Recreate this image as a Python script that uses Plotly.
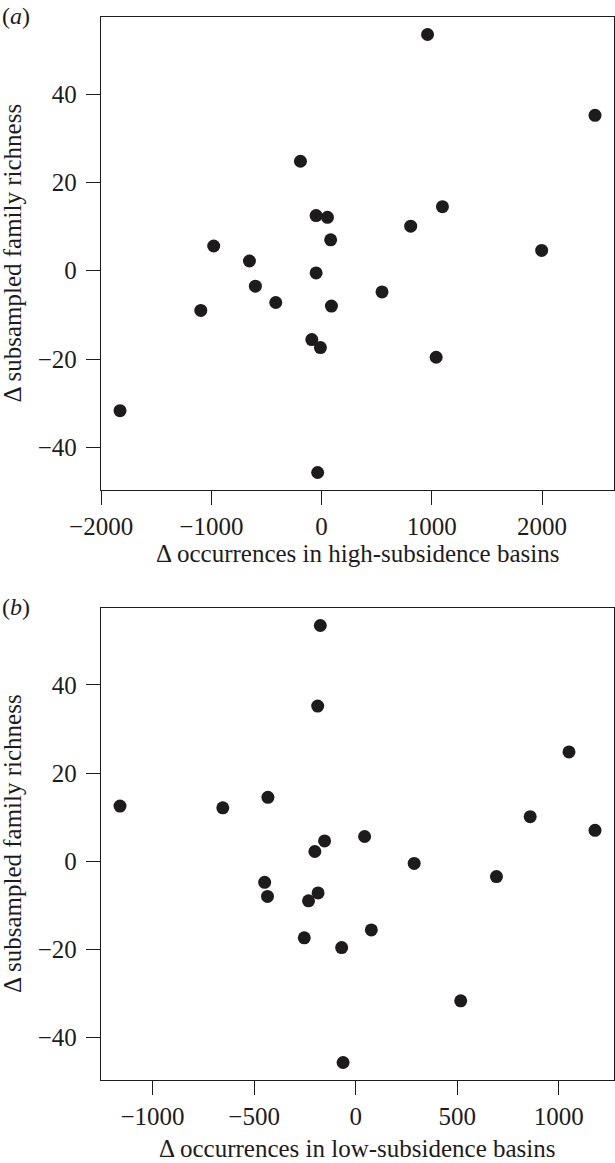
import plotly.graph_objects as go

# Shared response variable
richness_delta = [53.5, 35.2, 24.8, 14.5, 12.5, 12.1, 10.1, 7.0, 5.6, 4.6, 2.2,
                  -0.5, -3.5, -4.8, -7.2, -8.0, -9.0, -15.6, -17.4, -19.6, -31.7, -45.7]
# Panel (a): high-subsidence basins
occ_high = [961, 2480, -192, 1096, -50, 53, 808, 82, -979, 1996, -655,
            -50, -601, 548, -416, 89, -1096, -89, -11, 1039, -1829, -36]
# Panel (b): low-subsidence basins
occ_low = [-174, -187, 1050, -432, -1160, -654, 859, 1178, 44, -153, -201,
           288, 693, -448, -185, -434, -232, 77, -253, -69, 517, -62]

xticks_a = [-2000, -1000, 0, 1000, 2000]
xticks_b = [-1000, -500, 0, 500, 1000]
yticks = [-40, -20, 0, 20, 40]

x_title_a = "\u0394 occurrences in high-subsidence basins"
x_title_b = "\u0394 occurrences in low-subsidence basins"
y_title = "\u0394 subsampled family richness"

W, H = 615, 1163
FONT = "Liberation Serif"
INK = "#1e1b1c"
FS = 25

fig = go.Figure()
fig.add_trace(go.Scatter(x=occ_high, y=richness_delta, mode="markers",
                         marker=dict(size=13, color=INK), xaxis="x", yaxis="y",
                         showlegend=False, cliponaxis=False))
fig.add_trace(go.Scatter(x=occ_low, y=richness_delta, mode="markers",
                         marker=dict(size=13, color=INK), xaxis="x2", yaxis="y2",
                         showlegend=False, cliponaxis=False))

def minus(vals):
    return [str(v).replace("-", "\u2212") for v in vals]

def ax_common():
    return dict(showline=True, linecolor=INK, linewidth=1.4, mirror=True,
                ticks="outside", ticklen=14, tickwidth=1.4, tickcolor=INK,
                showgrid=False, zeroline=False, automargin=False,
                tickfont=dict(family=FONT, size=FS, color=INK))

xl, xr = 101 / W, 614 / W
ya = [1 - 490 / H, 1 - 17 / H]
yb = [1 - 1080 / H, 1 - 608 / H]

def rng(vals):
    lo, hi = min(vals), max(vals)
    pad = 0.04 * (hi - lo)
    return [lo - pad, hi + pad]

def ann(text, xp, yp, angle=0, xanchor="center", size=FS):
    return dict(text=text, x=xp / W, y=1 - yp / H, xref="paper", yref="paper",
                xanchor=xanchor, yanchor="middle", showarrow=False, textangle=angle,
                font=dict(family=FONT, size=size, color=INK))

fig.update_layout(
    width=W, height=H, margin=dict(l=0, r=0, t=0, b=0),
    paper_bgcolor="white", plot_bgcolor="white",
    font=dict(family=FONT, color=INK),
    xaxis=dict(domain=[xl, xr], anchor="y", range=rng(occ_high), tickvals=xticks_a,
               ticktext=minus(xticks_a), **ax_common()),
    yaxis=dict(domain=ya, anchor="x", range=rng(richness_delta), tickvals=yticks,
               ticktext=minus(yticks), ticklabelstandoff=4, **ax_common()),
    xaxis2=dict(domain=[xl, xr], anchor="y2", range=rng(occ_low), tickvals=xticks_b,
                ticktext=minus(xticks_b), **ax_common()),
    yaxis2=dict(domain=yb, anchor="x2", range=rng(richness_delta), tickvals=yticks,
                ticktext=minus(yticks), ticklabelstandoff=4, **ax_common()),
    annotations=[
        ann("(<i>a</i>)", 0, 16, xanchor="left", size=24),
        ann("(<i>b</i>)", 0, 607, xanchor="left", size=24),
        ann(x_title_a, 357.5, 554),
        ann(x_title_b, 357.5, 1148),
        ann(y_title, 12, 253.5, angle=-90),
        ann(y_title, 12, 844, angle=-90),
    ],
)

fig.write_html("out.html", config={"displayModeBar": False},
               post_script="document.body.style.margin='0';")
